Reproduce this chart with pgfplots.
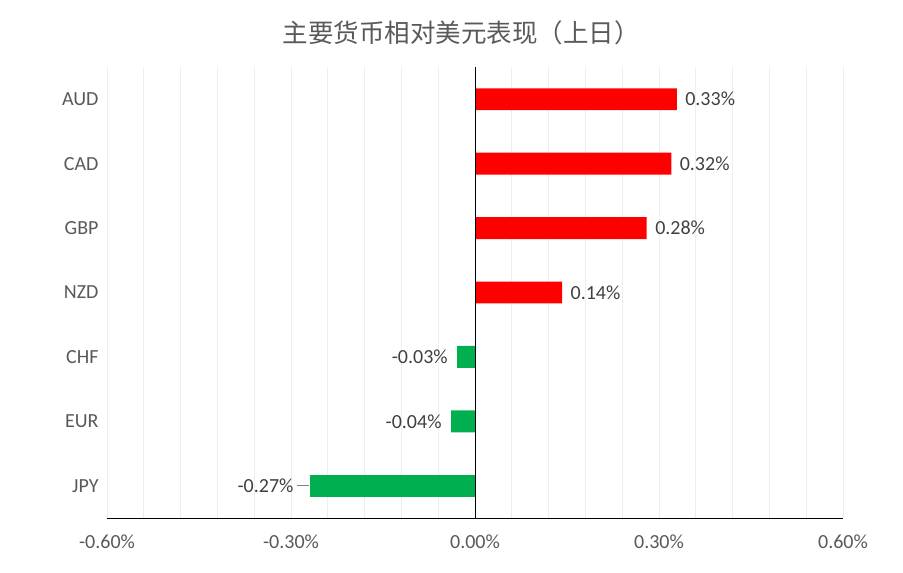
\documentclass[border=0pt]{standalone}
\usepackage{pgfplots}
\pgfplotsset{compat=1.18}
\usepackage{fontspec}
\setmainfont{Carlito}
\newfontfamily\cjk{Noto Sans CJK SC}
\definecolor{barred}{HTML}{FF0000}
\definecolor{bargreen}{HTML}{00B050}
\definecolor{txt}{HTML}{595959}
\definecolor{lbl}{HTML}{404040}
\definecolor{gridc}{HTML}{EEEEEE}
\pgfplotsset{/pgf/number format/assume math mode=true}
\begin{document}
\begin{tikzpicture}
\useasboundingbox (0,0) rectangle (903bp,573bp);
\node[text=txt, font=\cjk\fontsize{25.5bp}{30bp}\selectfont] at (461bp,540bp) {主要货币相对美元表现（上日）};
\begin{axis}[
 at={(107bp,55bp)}, anchor=south west,
 scale only axis, width=736bp, height=451bp,
 xbar, bar width=0.34, bar shift=0pt,
 xmin=-0.6, xmax=0.6, ymin=-0.5, ymax=6.5,
 ytick={0,...,6}, yticklabels={JPY,EUR,CHF,NZD,GBP,CAD,AUD},
 xtick={-0.6,-0.3,0,0.3,0.6},
 minor xtick={-0.54,-0.48,-0.42,-0.36,-0.24,-0.18,-0.12,-0.06,0.06,0.12,0.18,0.24,0.36,0.42,0.48,0.54},
 xmajorgrids, xminorgrids,
 major grid style={gridc, line width=0.8bp},
 minor grid style={gridc, line width=0.8bp},
 major tick length=0pt, minor tick length=0pt,
 axis line style={draw=none},
 xticklabel={\pgfmathprintnumber[fixed,fixed zerofill,precision=2]{\tick}\%},
 ticklabel style={font=\fontsize{20bp}{23bp}\selectfont, text=txt},
 yticklabel style={xshift=-5bp},
 xticklabel style={yshift=-13bp},
 point meta=x,
 nodes near coords={\pgfmathprintnumber[fixed,fixed zerofill,precision=2]{\pgfplotspointmeta}\%},
 every node near coord/.append style={font=\fontsize{20bp}{23bp}\selectfont, text=lbl},
 clip=false,
]
\addplot[fill=barred, draw=none, every node near coord/.append style={anchor=west, xshift=5bp}]
 coordinates {(0.329,6) (0.320,5) (0.280,4) (0.142,3)};
\addplot[fill=bargreen, draw=none, every node near coord/.append style={anchor=east, xshift=-6bp}]
 coordinates {(-0.029,2) (-0.039,1)};
\addplot[fill=bargreen, draw=none, every node near coord/.append style={anchor=east, xshift=-13bp}]
 coordinates {(-0.269,0)};
\draw[black!50, line width=0.6bp] ([xshift=-1bp]axis cs:-0.269,0) -- ([xshift=-13bp]axis cs:-0.269,0);
\draw[black, line width=1bp] (axis cs:0,-0.5) -- (axis cs:0,6.5);
\draw[black, line width=1bp] (axis cs:-0.6,-0.5) -- (axis cs:0.6,-0.5);
\end{axis}
\end{tikzpicture}
\end{document}
